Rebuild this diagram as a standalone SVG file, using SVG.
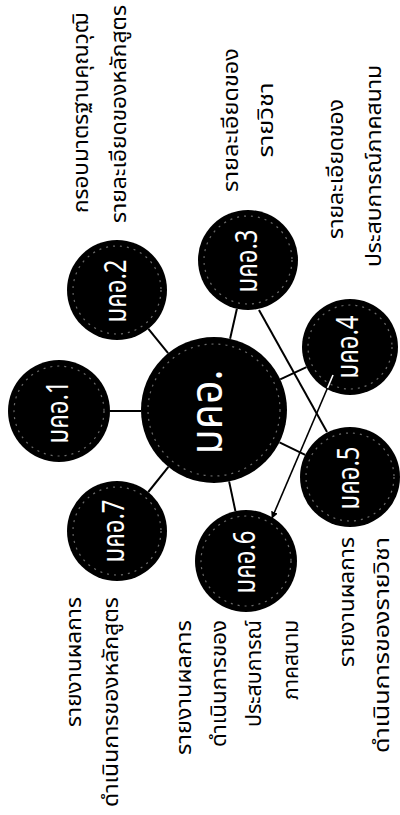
<svg xmlns="http://www.w3.org/2000/svg" width="400" height="815" viewBox="0 0 400 815">
<style>
.bg{fill:#ffffff}
.node{fill:#000000}
.rim{fill:none;stroke:#6a6a6a;stroke-width:1.2;stroke-dasharray:2 5}
.nt{fill:#ffffff;font-family:'Noto Sans Thai','Noto Sans','DejaVu Sans',sans-serif;text-anchor:middle}
.lb{fill:#000000;font-family:'Noto Sans Thai','Noto Sans','DejaVu Sans',sans-serif;font-size:22px}
.c{stroke:#000000;stroke-width:2;fill:none}
.a{stroke:#000000;stroke-width:1.6;fill:none}
</style>
<defs>
<marker id="ah" viewBox="0 0 10 10" refX="9" refY="5" markerWidth="7" markerHeight="7" markerUnits="userSpaceOnUse" orient="auto">
<path d="M0,0 L10,5 L0,10 z" fill="#000000"/>
</marker>
</defs>
<rect class="bg" x="0" y="0" width="400" height="815"/>

<g id="node-main">
<circle class="node" cx="214" cy="410" r="73"/>
<circle class="rim" cx="214" cy="410" r="66"/>
<text class="nt" font-size="44" textLength="85" lengthAdjust="spacingAndGlyphs" transform="translate(222,412) rotate(-90)">มคอ.</text>
</g>
<g id="node-1">
<circle class="node" cx="59" cy="411" r="51"/>
<circle class="rim" cx="59" cy="411" r="45"/>
<text class="nt" font-size="30" textLength="63" lengthAdjust="spacingAndGlyphs" transform="translate(68,412) rotate(-90)">มคอ.1</text>
</g>
<g id="node-2">
<circle class="node" cx="117" cy="290" r="50"/>
<circle class="rim" cx="117" cy="290" r="44"/>
<text class="nt" font-size="30" textLength="63" lengthAdjust="spacingAndGlyphs" transform="translate(126,291) rotate(-90)">มคอ.2</text>
</g>
<g id="node-3">
<circle class="node" cx="248" cy="260" r="50"/>
<circle class="rim" cx="248" cy="260" r="44"/>
<text class="nt" font-size="30" textLength="63" lengthAdjust="spacingAndGlyphs" transform="translate(257,261) rotate(-90)">มคอ.3</text>
</g>
<g id="node-4">
<circle class="node" cx="350" cy="347" r="48"/>
<circle class="rim" cx="350" cy="347" r="42"/>
<text class="nt" font-size="30" textLength="63" lengthAdjust="spacingAndGlyphs" transform="translate(358,347) rotate(-90)">มคอ.4</text>
</g>
<g id="node-5">
<circle class="node" cx="350" cy="477" r="50"/>
<circle class="rim" cx="350" cy="477" r="44"/>
<text class="nt" font-size="30" textLength="63" lengthAdjust="spacingAndGlyphs" transform="translate(359,478) rotate(-90)">มคอ.5</text>
</g>
<g id="node-6">
<circle class="node" cx="246" cy="561" r="51"/>
<circle class="rim" cx="246" cy="561" r="45"/>
<text class="nt" font-size="30" textLength="63" lengthAdjust="spacingAndGlyphs" transform="translate(255,562) rotate(-90)">มคอ.6</text>
</g>
<g id="node-7">
<circle class="node" cx="117" cy="531" r="50"/>
<circle class="rim" cx="117" cy="531" r="44"/>
<text class="nt" font-size="30" textLength="63" lengthAdjust="spacingAndGlyphs" transform="translate(124,531) rotate(-90)">มคอ.7</text>
</g>

<g id="connectors">
<line class="c" x1="110" y1="411" x2="141" y2="411"/>
<line class="c" x1="148.4" y1="328.9" x2="168.1" y2="353.2"/>
<line class="c" x1="236.9" y1="308.8" x2="230.1" y2="338.8"/>
<line class="c" x1="280.2" y1="379.3" x2="306.5" y2="367.2"/>
<line class="c" x1="279.5" y1="442.3" x2="305.2" y2="454.9"/>
<line class="c" x1="229.1" y1="481.4" x2="235.4" y2="511.1"/>
<line class="c" x1="168.4" y1="466.9" x2="148.3" y2="492"/>
<line class="c" x1="259" y1="310" x2="327" y2="432"/>
<line class="a" x1="327.5" y1="388" x2="272" y2="518" marker-end="url(#ah)"/>
<line x1="333" y1="375" x2="327.5" y2="388" stroke="#ffffff" stroke-width="1.6"/>
</g>

<g id="label-2">
<text class="lb" text-anchor="middle" textLength="200" lengthAdjust="spacingAndGlyphs" transform="translate(88,113) rotate(-90)">กรอบมาตรฐานคุณวุฒิ</text>
<text class="lb" text-anchor="middle" textLength="218" lengthAdjust="spacingAndGlyphs" transform="translate(126,114) rotate(-90)">รายละเอียดของหลักสูตร</text>
</g>
<g id="label-3">
<text class="lb" text-anchor="middle" textLength="144" lengthAdjust="spacingAndGlyphs" transform="translate(238,120) rotate(-90)">รายละเอียดของ</text>
<text class="lb" text-anchor="middle" textLength="75" lengthAdjust="spacingAndGlyphs" transform="translate(273,120) rotate(-90)">รายวิชา</text>
</g>
<g id="label-4">
<text class="lb" text-anchor="middle" textLength="140" lengthAdjust="spacingAndGlyphs" transform="translate(343,169) rotate(-90)">รายละเอียดของ</text>
<text class="lb" text-anchor="middle" textLength="202" lengthAdjust="spacingAndGlyphs" transform="translate(381,166) rotate(-90)">ประสบการณ์ภาคสนาม</text>
</g>
<g id="label-5">
<text class="lb" text-anchor="end" textLength="130" lengthAdjust="spacingAndGlyphs" transform="translate(354,537) rotate(-90)">รายงานผลการ</text>
<text class="lb" text-anchor="end" textLength="216" lengthAdjust="spacingAndGlyphs" transform="translate(389,537) rotate(-90)">ดำเนินการของรายวิชา</text>
</g>
<g id="label-6">
<text class="lb" text-anchor="end" textLength="135" lengthAdjust="spacingAndGlyphs" transform="translate(191,620) rotate(-90)">รายงานผลการ</text>
<text class="lb" text-anchor="end" textLength="127" lengthAdjust="spacingAndGlyphs" transform="translate(226,620) rotate(-90)">ดำเนินการของ</text>
<text class="lb" text-anchor="end" textLength="107" lengthAdjust="spacingAndGlyphs" transform="translate(261,620) rotate(-90)">ประสบการณ์</text>
<text class="lb" text-anchor="end" textLength="80" lengthAdjust="spacingAndGlyphs" transform="translate(298,620) rotate(-90)">ภาคสนาม</text>
</g>
<g id="label-7">
<text class="lb" text-anchor="end" textLength="130" lengthAdjust="spacingAndGlyphs" transform="translate(81,597) rotate(-90)">รายงานผลการ</text>
<text class="lb" text-anchor="end" textLength="210" lengthAdjust="spacingAndGlyphs" transform="translate(118,597) rotate(-90)">ดำเนินการของหลักสูตร</text>
</g>
</svg>
